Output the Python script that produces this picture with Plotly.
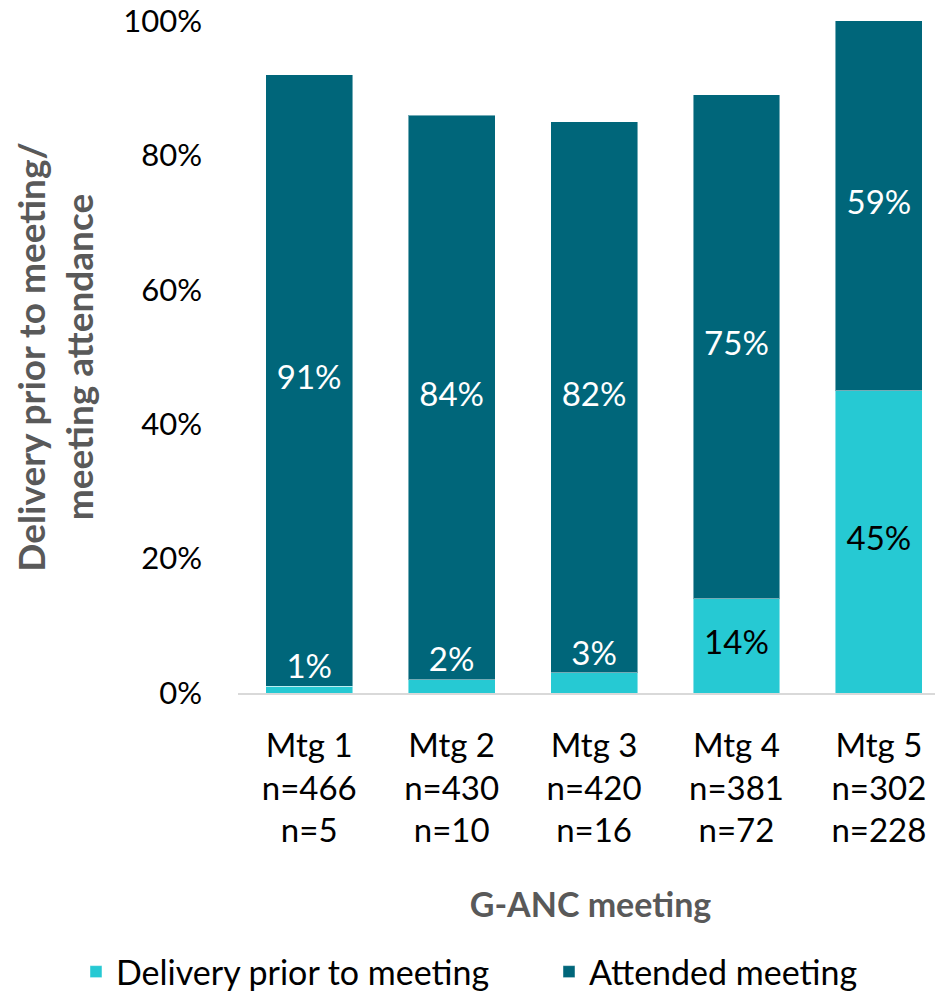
import plotly.graph_objects as go

meetings = ["Mtg 1", "Mtg 2", "Mtg 3", "Mtg 4", "Mtg 5"]
n_attended = ["n=466", "n=430", "n=420", "n=381", "n=302"]
n_delivery = ["n=5", "n=10", "n=16", "n=72", "n=228"]
delivery = [1, 2, 3, 14, 45]
attended = [91, 84, 82, 75, 59]

CYAN = "#26C9D3"
TEAL = "#00667A"
FONT = "Lato"
YMAX = 100

cats = [f"{m}<br>{a}<br>{d}" for m, a, d in zip(meetings, n_attended, n_delivery)]

fig = go.Figure()
fig.add_trace(go.Bar(
    x=cats, y=delivery, name="Delivery prior to meeting",
    marker=dict(color=CYAN, line=dict(color="rgba(255,255,255,0.45)", width=1)),
    hoverinfo="skip", legend="legend",
))
fig.add_trace(go.Bar(
    x=cats, y=attended, name="Attended meeting",
    marker=dict(color=TEAL, line=dict(color="rgba(255,255,255,0.45)", width=1)),
    hoverinfo="skip", legend="legend2",
))

# attended labels: centred in the visible part of each segment
fig.add_trace(go.Scatter(
    x=cats,
    y=[(d + min(d + a, YMAX)) / 2 for d, a in zip(delivery, attended)],
    mode="text", text=[f"{a}%" for a in attended],
    textposition="middle center",
    textfont=dict(family=FONT, size=33, color="white"),
    showlegend=False, hoverinfo="skip", cliponaxis=False,
))

# delivery labels: centred in large segments, just above small segments
big = [d >= 10 for d in delivery]
fig.add_trace(go.Scatter(
    x=[c for c, b in zip(cats, big) if b],
    y=[d / 2 for d, b in zip(delivery, big) if b],
    mode="text", text=[f"{d}%" for d, b in zip(delivery, big) if b],
    textposition="middle center",
    textfont=dict(family=FONT, size=33, color="black"),
    showlegend=False, hoverinfo="skip", cliponaxis=False,
))
fig.add_trace(go.Scatter(
    x=[c for c, b in zip(cats, big) if not b],
    y=[d for d, b in zip(delivery, big) if not b],
    mode="text", text=[f"{d}%" for d, b in zip(delivery, big) if not b],
    textposition="top center",
    textfont=dict(family=FONT, size=33, color="white"),
    showlegend=False, hoverinfo="skip", cliponaxis=False,
))

legend_common = dict(
    orientation="h", xref="container", yref="container",
    xanchor="left", yanchor="middle", y=0.0223,
    font=dict(family=FONT, size=34, color="black"),
    bgcolor="rgba(0,0,0,0)",
)

fig.update_layout(
    width=935, height=986,
    barmode="stack", bargap=0.39,
    plot_bgcolor="white", paper_bgcolor="white",
    margin=dict(l=230, r=0, t=13, b=301, autoexpand=False),
    font=dict(family=FONT, size=31, color="black"),
    legend=dict(x=0.0727, **legend_common),
    legend2=dict(x=0.5786, **legend_common),
    xaxis=dict(
        range=[-0.5, 4.45], showline=True, linecolor="#D9D9D9", linewidth=2,
        ticks="", tickfont=dict(family=FONT, size=33, color="black"),
        ticklabelstandoff=22, automargin=False, ticklabeloverflow="allow",
        title=dict(text="<b>G-ANC meeting</b>", standoff=45,
                   font=dict(family=FONT, size=34, color="#595959")),
        fixedrange=True,
    ),
    yaxis=dict(
        range=[0, YMAX], tickvals=[0, 20, 40, 60, 80, 100],
        ticktext=["0%", "20%", "40%", "60%", "80%", "100%"],
        showgrid=False, zeroline=False, showline=False, ticks="",
        ticklabelstandoff=35, automargin=False, ticklabeloverflow="allow",
        tickfont=dict(family=FONT, size=31, color="black"),
        title=dict(text="<b>Delivery prior to meeting/<br>meeting attendance</b>",
                   standoff=18,
                   font=dict(family=FONT, size=37, color="#595959")),
        fixedrange=True,
    ),
)

fig.write_html("out.html")
